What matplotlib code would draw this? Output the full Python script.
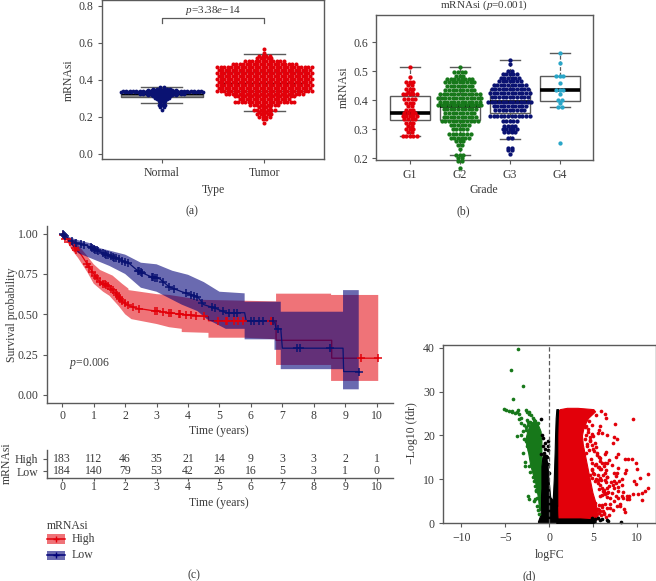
import numpy as np
import matplotlib
matplotlib.use("Agg")
import matplotlib.pyplot as plt
from matplotlib.patches import Rectangle

plt.rcParams['font.family'] = ['Liberation Serif', 'DejaVu Sans']
plt.rcParams['mathtext.fontset'] = 'custom'
plt.rcParams['mathtext.rm'] = 'Liberation Serif'
plt.rcParams['mathtext.it'] = 'Liberation Serif:italic'

W, H = 656, 581
TXT = '#3a3a3a'
EDGE = '#5a5a5a'
RED = '#e2000a'
NAVY = '#0a1272'
GREEN = '#17781a'
CYAN = '#2aa6c8'

# (a) swarm rows: value of the row, number of samples in it
normal_vals = [0.362, 0.352, 0.345, 0.337, 0.331, 0.325, 0.318, 0.31, 0.302, 0.294, 0.285, 0.275, 0.262, 0.25, 0.238]
normal_counts = [2, 6, 9, 24, 25, 14, 9, 6, 5, 4, 3, 2, 3, 2, 1]
tumor_vals = [0.565, 0.543, 0.53, 0.515, 0.5, 0.485, 0.468, 0.452, 0.436, 0.42, 0.404, 0.388, 0.372, 0.356, 0.34,
              0.325, 0.31, 0.294, 0.28, 0.265, 0.25, 0.238, 0.225, 0.212, 0.198, 0.185, 0.168]
tumor_counts = [1, 1, 4, 5, 12, 19, 28, 27, 28, 27, 28, 27, 28, 27, 28,
                23, 18, 15, 18, 9, 4, 7, 4, 5, 4, 2, 1]
# q1, median, q3, lower whisker, upper whisker
normal_box = [0.306, 0.322, 0.335, 0.273, 0.36]
tumor_box = [0.34, 0.385, 0.44, 0.23, 0.54]

# (b)
g1_vals = [0.514, 0.481, 0.464, 0.453, 0.44, 0.43, 0.42, 0.405, 0.39, 0.38, 0.365, 0.355, 0.345, 0.335, 0.32, 0.31, 0.3, 0.29, 0.277]
g1_counts = [1, 1, 3, 2, 3, 2, 5, 4, 3, 2, 3, 4, 5, 4, 3, 2, 3, 2, 5]
g2_vals = [0.514, 0.498, 0.485, 0.473, 0.462, 0.449, 0.436, 0.421, 0.408, 0.395, 0.382, 0.37, 0.357, 0.344, 0.328, 0.314,
           0.3, 0.282, 0.27, 0.258, 0.245, 0.232, 0.212, 0.2, 0.19, 0.168]
g2_counts = [1, 4, 3, 8, 9, 8, 9, 12, 13, 12, 13, 10, 9, 10, 11, 6,
             5, 7, 6, 3, 2, 1, 3, 2, 2, 1]
g3_vals = [0.54, 0.525, 0.5, 0.49, 0.478, 0.465, 0.452, 0.44, 0.425, 0.41, 0.395, 0.38, 0.365, 0.345, 0.33, 0.31, 0.3, 0.29, 0.27, 0.235, 0.228, 0.215]
g3_counts = [1, 1, 2, 5, 6, 7, 10, 11, 12, 11, 13, 10, 9, 12, 5, 4, 5, 4, 2, 2, 2, 1]
g4_vals = [0.563, 0.527, 0.482, 0.458, 0.436, 0.42, 0.402, 0.39, 0.378, 0.254]
g4_counts = [1, 1, 3, 1, 3, 1, 2, 1, 2, 1]
grade_labels = ['G1', 'G2', 'G3', 'G4']
grade_boxes = [[0.332, 0.357, 0.415, 0.276, 0.513],
               [0.333, 0.38, 0.423, 0.212, 0.514],
               [0.357, 0.395, 0.44, 0.268, 0.538],
               [0.397, 0.436, 0.483, 0.378, 0.564]]

# (c) survival curves, repeated times are the big drops
high_t = [0, 0.1, 0.25, 0.4, 0.6, 0.8, 1.0, 1.2, 1.5, 1.7, 1.9, 2.1, 2.3, 2.8, 3.4, 3.8, 4.65, 4.65, 6.8, 6.8, 8.57, 8.57, 10.05]
high_s = [1, 0.97, 0.95, 0.91, 0.87, 0.81, 0.75, 0.7, 0.67, 0.63, 0.58, 0.555, 0.54, 0.525, 0.51, 0.5, 0.485, 0.46, 0.46, 0.339, 0.339, 0.228, 0.228]
high_hi_t = [0, 0.3, 0.5, 0.8, 1.0, 1.2, 1.6, 1.9, 2.1, 2.11, 3.0, 3.4, 4.4, 6.8, 6.8, 8.55, 8.55, 10.05]
high_hi = [1, 0.96, 0.93, 0.86, 0.81, 0.775, 0.74, 0.69, 0.66, 0.65, 0.625, 0.62, 0.59, 0.58, 0.628, 0.628, 0.62, 0.62]
high_lo_t = [0, 0.3, 0.5, 0.8, 1, 1.3, 1.5, 1.8, 2, 2.2, 3, 3.4, 3.8, 3.8, 4.65, 4.65, 5.8, 6.8, 6.8, 8.55, 8.55, 10.05]
high_lo = [1, 0.9, 0.85, 0.76, 0.69, 0.64, 0.615, 0.55, 0.5, 0.47, 0.44, 0.42, 0.41, 0.39, 0.385, 0.355, 0.355, 0.345, 0.186, 0.186, 0.087, 0.087]
low_t = [0, 0.2, 0.4, 0.8, 1.0, 1.4, 1.8, 2.1, 2.4, 2.8, 3.1, 3.4, 3.8, 4.3, 4.5, 4.9, 5.2, 5.8, 5.85, 6.75, 6.8, 6.95, 7.0, 8.93, 8.95, 9.45]
low_s = [1, 0.97, 0.945, 0.925, 0.905, 0.87, 0.84, 0.82, 0.77, 0.735, 0.72, 0.67, 0.64, 0.61, 0.56, 0.535, 0.51, 0.51, 0.46, 0.46, 0.41, 0.41, 0.29, 0.29, 0.145, 0.145]
low_hi_t = [0, 0.2, 0.5, 0.9, 1.2, 2, 2.5, 3, 3.5, 4, 4.5, 5, 5.8, 5.8, 6.95, 6.95, 8.93, 8.93, 9.43]
low_hi = [1, 0.98, 0.96, 0.94, 0.91, 0.87, 0.82, 0.81, 0.77, 0.745, 0.7, 0.64, 0.63, 0.578, 0.578, 0.516, 0.516, 0.65, 0.65]
low_lo_t = [0, 0.5, 1, 1.5, 2, 2.5, 3, 3.4, 3.8, 4.3, 4.6, 5.2, 5.8, 5.8, 6.75, 6.75, 6.95, 6.95, 8.93, 8.93, 9.43]
low_lo = [1, 0.88, 0.84, 0.8, 0.75, 0.665, 0.64, 0.6, 0.56, 0.52, 0.47, 0.41, 0.41, 0.345, 0.345, 0.28, 0.28, 0.16, 0.16, 0.035, 0.035]
high_censor = [0.02, 0.1, 0.25, 0.4, 0.45, 0.8, 0.85, 0.95, 1.05, 1.1, 1.2, 1.3, 1.35, 1.4, 1.45, 1.55, 1.6, 1.7, 1.75, 1.8, 1.85,
               1.9, 2.0, 2.1, 2.25, 2.45, 2.95, 3.0, 3.2, 3.4, 3.45, 3.7, 3.75, 3.95, 4.1, 4.25, 4.5, 4.95, 5.2, 5.25, 5.45,
               5.6, 5.75, 6.65, 6.7, 9.5, 10.05]
low_censor = [0.02, 0.05, 0.1, 0.3, 0.45, 0.6, 0.7, 0.9, 0.95, 1.0, 1.05, 1.1, 1.15, 1.3, 1.35, 1.4, 1.45, 1.55, 1.6, 1.65, 1.7,
              1.8, 1.9, 2.0, 2.1, 2.4, 2.45, 2.5, 2.55, 2.85, 2.9, 2.95, 3.0, 3.2, 3.4, 3.55, 3.95, 4.1, 4.2, 4.3, 4.45, 4.75,
              4.85, 5.1, 5.3, 5.45, 5.55, 6.0, 6.1, 6.25, 6.4, 6.7, 6.85, 7.45, 7.55, 8.5, 9.45]
risk_times = list(range(11))
risk_high = [183, 112, 46, 35, 21, 14, 9, 3, 3, 2, 1]
risk_low = [184, 140, 79, 53, 42, 26, 16, 5, 3, 1, 0]

# (d) the solid clouds are given as outlines by fdr level, the loose points one by one
red_y = [0.9, 2, 5, 7, 10, 13, 15, 18, 20, 22, 24, 25.5, 26, 26.3]
red_l = [0.85, 0.85, 0.85, 0.85, 0.85, 0.85, 0.85, 0.85, 0.85, 0.87, 0.9, 0.95, 1.2, 2.0]
red_r = [5.4, 5.5, 5.2, 4.9, 4.6, 4.3, 4.1, 3.8, 3.7, 3.9, 4.4, 5.2, 5.0, 3.2]
green_y = [3, 6, 9.2, 12, 13.6, 16, 19, 21, 23]
green_l = [-1.15, -1.3, -1.6, -2.0, -2.2, -2.4, -2.75, -2.5, -2.1]
green_r = [-1.0, -0.95, -0.9, -0.9, -0.9, -0.9, -0.9, -1.0, -1.4]
black_a_y = [0, 0.4, 2, 4, 6, 8, 10, 13, 15, 15.6]
black_a_l = [-1.25, -1.3, -1.0, -0.95, -0.95, -0.9, -0.9, -0.9, -0.8, -0.7]
black_a_r = [0.95, 0.95, 0.9, 0.88, 0.1, 0.0, -0.1, -0.2, -0.35, -0.4]
black_b_y = [4, 6, 10, 13, 16, 20, 24, 26]
black_b_l = [0.3, 0.4, 0.5, 0.55, 0.6, 0.65, 0.72, 0.8]
black_b_r = [0.9, 0.9, 0.9, 0.9, 0.9, 0.9, 0.95, 1.0]
black_c_y = [0, 0.4, 0.9, 1.1]
black_c_l = [0.8, 0.8, 0.8, 0.8]
black_c_r = [4.9, 5.3, 5.0, 3.5]

green_x = [-3.6, -4.4, -3.05, -4.15, -5.1, -4.9, -4.6, -4.3, -4.2, -3.9, -3.7, -3.6, -3.5, -2.6, -2.5, -2.3, -2.3, -2.1, -3.2, -3.4,
           -3.2, -1.9, -1.7, -2.4, -1.3, -3.71, -3.26, -3.03, -2.77, -2.77, -2.27, -2.0, -2.65, -2.39, -2.39, -2.27, -1.8, -1.6, -1.45, -1.3, -1.2,
           -2.85, -2.7, -2.5, -3.0, -2.2, -1.7, -1.5, -1.5, -2.6, -2.4, -2.2, -1.9, -1.6, -2.9, -2.5, -2.3, -2.0, -1.8, -2.2, -1.9, -1.7, -1.6, -1.5, -1.4]
green_f = [39.7, 35, 31.3, 28.4, 26.1, 25.9, 25.6, 25.3, 25.5, 25.2, 25.4, 25.9, 25, 25.8, 25.3, 25.4, 24.8, 24.6, 24, 23.8,
           22.8, 23.9, 23.5, 23, 22.9, 19.9, 20.1, 15.9, 14, 13.1, 13.1, 15.2, 18.8, 19.4, 6.3, 5.5, 5, 5.6, 4, 3, 2.2,
           22.4, 22, 23.6, 21, 21.8, 21.5, 22.5, 7.5, 21.2, 22.3, 23, 22.8, 23.2, 19.2, 17.5, 16.6, 17.8, 12.7, 11.6, 10.5, 9.7, 8.4, 7.4, 5.8]
red_x = [9.47, 5.88, 6.37, 6.4, 7.5, 5.77, 5.3, 5.69, 5.95, 6.5, 5.5, 7.35, 7.66, 7.2, 6.35, 6.45, 7.85, 7.55, 8.6, 8.99, 9.36, 9.8, 10.0,
         11.2, 6.83, 6.6, 7.1, 6.2, 5.6, 5.8, 7.85, 7.3, 7.65, 8.7, 8.6, 6.3, 6.5, 5.5, 6.3, 8.2, 10.3, 9.66, 9.9, 11.25, 7.3, 7.6, 7.2,
         6.5, 6.8, 7.85, 7.4, 8.4, 7.85, 6.2, 9.5, 10.1, 10.5, 10.9, 10.5, 8.8, 9.0, 8.2, 8.4, 8.8, 9.0, 7.6, 7.1, 6.5, 5.95, 6.9, 7.85,
         7.3, 6.9, 7.7, 8.0, 6.3, 6.6, 6.9, 8.6, 5.95, 6.07, 5.5, 5.6,
         4.5, 4.8, 4.4, 4.9, 5.0, 4.6, 5.2, 5.3, 5.1, 5.4, 5.6, 5.8, 5.3, 5.5, 4.8, 5.0, 4.6, 4.9, 5.2, 5.5, 5.7, 6.0, 6.2, 6.4, 6.1, 5.9, 6.3,
         4.2, 4.4, 4.1, 4.3, 4.6, 4.5, 4.2, 4.7, 4.9, 5.2, 4.8, 5.1, 5.5, 5.3, 5.7, 5.9, 5.6, 6.1, 6.3, 5.8, 6.5, 6.7, 5.2, 5.6, 6.0, 5.4,
         5.8, 6.2, 4.0, 4.2, 4.6, 4.3, 4.8, 5.0, 5.4, 5.7, 6.0, 6.4, 6.6, 5.6, 6.2, 5.9, 6.4, 7.0, 7.2, 6.8, 7.6, 7.9, 8.2, 8.0, 8.5]
red_f = [23.76, 25.6, 24.9, 23.9, 22.6, 22.2, 24.7, 21.2, 20.5, 20.1, 20.5, 19.7, 19.1, 18.2, 15.8, 16.3, 15.8, 15, 14.6, 14.6, 14.6, 13.7, 12.4,
         11.2, 14.4, 13.7, 13.3, 13, 12.8, 12.4, 12.5, 11.4, 11.5, 12.2, 11.4, 11.4, 10.6, 9.9, 9.9, 10, 10.4, 9.7, 9, 8.1, 9.7, 9.1, 8.7,
         8, 8.4, 8.2, 8.1, 7.2, 7.4, 7.2, 6.7, 6.6, 6.8, 7.3, 5.3, 6.2, 6.2, 6.2, 5.7, 5.5, 5.5, 6.2, 6.8, 6.1, 6.5, 5.7, 5.7,
         5, 4.5, 3.9, 4.4, 4.5, 3.4, 3.4, 2.6, 4.2, 2.9, 3.2, 2.3,
         23.2, 22.5, 21.5, 20.4, 19.8, 19.0, 18.2, 17.3, 16.4, 15.6, 15.1, 14.3, 13.5, 12.9, 12.1, 11.5, 10.9, 10.3, 9.7, 9.2, 8.7, 8.1, 7.6, 9.5, 11, 12.3, 13.7,
         22.2, 20.8, 19.2, 17.7, 18.8, 16.8, 16.1, 14.7, 13.8, 13.2, 12.4, 11.2, 11.0, 10.1, 10.4, 9.8, 7.9, 7.4, 6.6, 6.3, 6.9, 7.2, 4.7, 4.2, 3.8, 3.3,
         2.9, 2.4, 21.9, 20.2, 19.6, 18.1, 17.9, 16.9, 15.9, 14.9, 13.8, 12.2, 10.6, 3.0, 2.1, 1.8, 1.5, 9.3, 3.1, 2.0, 10.8, 9.6, 8.8, 3.9, 3.3]
black_x = [-0.9, -0.8, -0.75, -0.5, -0.1, -0.1, -0.5, -0.2, -0.95, -0.4, -0.75, 5.2, 5.5, 5.8, 6, 6.5, 6.7, 8.15, 5.0, 4.9,
           -0.3, -0.15, -0.05, -0.6, -0.25]
black_f = [23.8, 20, 19.4, 18.3, 18.8, 17.6, 17, 16.6, 15.7, 15.4, 17.6, 1, 1.3, 0.8, 1, 0.7, 0.6, 0.2, 0.5, 1.1,
           15.2, 13.6, 11.5, 16, 9.8]


def px_axes(fig, left, top, right, bottom):
    return fig.add_axes([left / W, 1 - bottom / H, (right - left) / W, (bottom - top) / H])


def style(ax, left_only=False):
    for s in ax.spines.values():
        s.set_color(EDGE)
        s.set_linewidth(1.0)
    if left_only:
        ax.spines['top'].set_visible(False)
        ax.spines['right'].set_visible(False)
    ax.tick_params(colors=TXT, color=EDGE, labelsize=8.5, length=3, width=0.8, pad=3)


def swarm(ax, center, vals, counts, step, color, size):
    xs, ys = [], []
    for v, n in zip(vals, counts):
        xs.extend(center + (np.arange(n) - (n - 1) / 2) * step)
        ys.extend([v] * n)
    ax.scatter(xs, ys, s=size, color=color, linewidths=0, zorder=3, clip_on=False)


def box(ax, center, stats, width=0.8, cap=0.4, whisker_ls='-', med_lw=1.0, fc='white'):
    q1, med, q3, lo, hi = stats
    ax.add_patch(Rectangle((center - width / 2, q1), width, q3 - q1, fc=fc, ec=EDGE, lw=1.0, zorder=1))
    ax.plot([center - width / 2, center + width / 2], [med, med], color='black', lw=med_lw, solid_capstyle='butt', zorder=2)
    ax.plot([center, center], [q3, hi], color=EDGE, lw=0.9, ls=whisker_ls, zorder=1)
    ax.plot([center, center], [q1, lo], color=EDGE, lw=0.9, ls=whisker_ls, zorder=1)
    for v in (lo, hi):
        ax.plot([center - cap / 2, center + cap / 2], [v, v], color=EDGE, lw=1.0, zorder=1)


def band(ax, hi_t, hi, lo_t, lo, color, alpha, z):
    ax.fill(np.r_[hi_t, lo_t[::-1]], np.r_[hi, lo[::-1]], color=color, alpha=alpha, lw=0, zorder=z)


fig = plt.figure(figsize=(W / 100, H / 100), dpi=100)

# ---- (a)
ax = px_axes(fig, 102, 0.3, 324, 159)
ax.set_xlim(0.414, 2.584)
ax.set_ylim(-0.029, 0.83)
style(ax)
box(ax, 1, normal_box, fc='#8c8c8c')
box(ax, 2, tumor_box)
swarm(ax, 1, normal_vals, normal_counts, 3.4 / 102.3, NAVY, 7.5)
swarm(ax, 2, tumor_vals, tumor_counts, 3.5 / 102.3, RED, 8.5)
ax.plot([1, 1, 2, 2], [0.705, 0.735, 0.735, 0.705], color=EDGE, lw=0.9)
ax.text(1.5, 0.775, r'$p$=3.38$e$−14', ha='center', va='center', fontsize=8, color=TXT)
ax.set_xticks([1, 2], ['Normal', 'Tumor'])
ax.set_yticks([0, 0.2, 0.4, 0.6, 0.8], ['0.0', '0.2', '0.4', '0.6', '0.8'])

# ---- (b)
ax = px_axes(fig, 376.3, 14.7, 592.7, 160.3)
ax.set_xlim(0.332, 4.66)
ax.set_ylim(0.193, 0.695)
style(ax)
for i, stats in enumerate(grade_boxes):
    box(ax, i + 1, stats, whisker_ls=(0, (3, 1.5)), med_lw=2.6)
swarm(ax, 1, g1_vals, g1_counts, 3.6 / 50, RED, 9.5)
swarm(ax, 2, g2_vals, g2_counts, 3.6 / 50, GREEN, 9.5)
swarm(ax, 3, g3_vals, g3_counts, 3.6 / 50, NAVY, 9.5)
swarm(ax, 4, g4_vals, g4_counts, 3.6 / 50, CYAN, 9.5)
ax.set_xticks([1, 2, 3, 4], grade_labels)
ax.set_yticks([0.2, 0.3, 0.4, 0.5, 0.6], ['0.2', '0.3', '0.4', '0.5', '0.6'])

# ---- (c)
ax = px_axes(fig, 46.7, 225.6, 392.7, 402.7)
ax.set_xlim(-0.496, 10.51)
ax.set_ylim(-0.048, 1.05)
style(ax, left_only=True)
band(ax, high_hi_t, high_hi, high_lo_t, high_lo, RED, 0.55, 1)
ax.plot(high_t, high_s, color=RED, lw=0.9, zorder=2)
band(ax, low_hi_t, low_hi, low_lo_t, low_lo, '#020279', 0.59, 3)
ax.plot(low_t, low_s, color=NAVY, lw=0.9, zorder=4)
ax.plot(high_censor, np.interp(high_censor, high_t, high_s), ls='', marker='+', ms=6, mew=1.1, color=RED, zorder=5)
ax.plot(low_censor, np.interp(low_censor, low_t, low_s), ls='', marker='+', ms=6, mew=1.1, color=NAVY, zorder=6)
ax.text(0.22, 0.196, r'$p$=0.006', ha='left', va='center', fontsize=8.5, color=TXT)
ax.set_xticks(risk_times)
ax.set_yticks([0, 0.25, 0.5, 0.75, 1], ['0.00', '0.25', '0.50', '0.75', '1.00'])
ax.tick_params(axis='x', pad=2)

# risk table
ax = px_axes(fig, 46.7, 450, 392.7, 478.3)
ax.set_xlim(-0.496, 10.51)
ax.set_ylim(-0.556, 1.69)
style(ax, left_only=True)
for t, a, b in zip(risk_times, risk_high, risk_low):
    ax.text(t, 1, str(a), ha='center', va='center', fontsize=8.5, color=TXT)
    ax.text(t, 0, str(b), ha='center', va='center', fontsize=8.5, color=TXT)
ax.set_xticks(risk_times)
ax.set_yticks([0, 1], ['Low', 'High'])
ax.tick_params(axis='x', pad=0, length=2)

# ---- (d)
ax = px_axes(fig, 443.3, 344.7, 656, 523.3)
ax.set_xlim(-12.05, 12.12)
ax.set_ylim(0, 40.68)
style(ax)
ax.fill_betweenx(red_y, red_l, red_r, color=RED, lw=0.8, zorder=2)
ax.fill_betweenx(green_y, green_l, green_r, color=GREEN, lw=0.8, zorder=2)
ax.fill_betweenx(black_a_y, black_a_l, black_a_r, color='black', lw=0.8, zorder=2)
ax.fill_betweenx(black_b_y, black_b_l, black_b_r, color='black', lw=0.8, zorder=2)
ax.fill_betweenx(black_c_y, black_c_l, black_c_r, color='black', lw=0.8, zorder=3)
ax.scatter(red_x, red_f, s=7, color=RED, linewidths=0, zorder=2)
ax.scatter(green_x, green_f, s=7, color=GREEN, linewidths=0, zorder=2)
ax.scatter(black_x, black_f, s=7, color='black', linewidths=0, zorder=2, clip_on=False)
ax.axvline(0, color=EDGE, lw=0.9, ls=(0, (3.5, 2)), zorder=4)
ax.set_xticks([-10, -5, 0, 5, 10], ['−10', '−5', '0', '5', '10'])
ax.set_yticks([0, 10, 20, 30, 40])

# labels, captions and the legend sit on a full-figure overlay in pixel positions
ov = fig.add_axes([0, 0, 1, 1], zorder=10)
ov.set_xlim(0, W)
ov.set_ylim(H, 0)
ov.axis('off')
ov.patch.set_alpha(0)


def label(x, y, s, rot=0, size=8.5, ha='center'):
    ov.text(x, y, s, rotation=rot, fontsize=size, color=TXT, ha=ha, va='center')


label(69, 80, 'mRNAsi', rot=90)
label(213, 190, 'Type')
label(191.7, 211, '(a)')
label(344, 87, 'mRNAsi', rot=90)
label(484, 190, 'Grade')
label(484, 5.6, r'mRNAsi ($p$=0.001)', size=8)
label(463.3, 211, '(b)')
label(12, 315, 'Survival probability', rot=90)
label(219, 430.7, 'Time (years)')
label(219, 503, 'Time (years)')
label(7, 463, 'mRNAsi', rot=90)
label(194, 575.7, '(c)')
label(411.7, 433, '−Log10 (fdr)', rot=90)
label(549.3, 555, 'logFC')
label(528.7, 576, '(d)')

label(46.7, 525.7, 'mRNAsi', ha='left')
for y0, c, a, name, ty in [(534.3, RED, 0.55, 'High', 538.7), (550.7, '#020279', 0.59, 'Low', 555.3)]:
    ov.add_patch(Rectangle((46.7, y0), 18.3, 9.4, fc=c, alpha=a, lw=0))
    ov.plot([46.7, 65], [y0 + 4.7, y0 + 4.7], color=c, lw=1.1)
    ov.plot([55.8], [y0 + 4.7], marker='+', ms=5, mew=1, color=c)
    label(72, ty, name, ha='left')

fig.savefig('out.png', dpi=100)
